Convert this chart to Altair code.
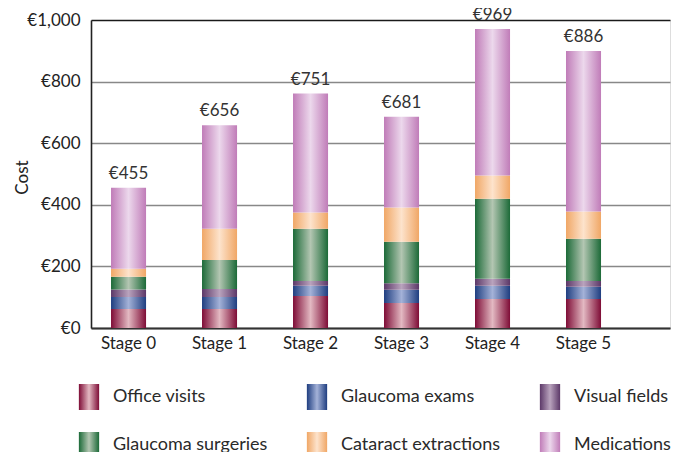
import altair as alt
import pandas as pd

stages = ["Stage 0", "Stage 1", "Stage 2", "Stage 3", "Stage 4", "Stage 5"]
categories = ["Office visits", "Glaucoma exams", "Visual fields",
              "Glaucoma surgeries", "Cataract extractions", "Medications"]
office_visits = [62, 62, 104, 81, 94, 94]
glaucoma_exams = [39, 39, 33, 43, 43, 40]
visual_fields = [24, 26, 16, 21, 23, 19]
glaucoma_surgeries = [41, 94, 169, 135, 260, 137]
cataract_extractions = [26, 101, 53, 111, 75, 88]
medications = [263, 336, 386, 295, 476, 521]
total_labels = ["€455", "€656", "€751", "€681", "€969", "€886"]
y_ticks = [0, 200, 400, 600, 800, 1000]

# gradient (edge, centre) colours per category
edge_colors = ["#7e0c36", "#1f3e80", "#5c3868", "#1c6a38", "#f0a766", "#c07cb8"]
centre_colors = ["#e3b9c2", "#a4b2d8", "#b9a3bd", "#b3c6b2", "#fde3cc", "#ecd8ec"]

series = [office_visits, glaucoma_exams, visual_fields,
          glaucoma_surgeries, cataract_extractions, medications]
rows = []
for ci, (cat, vals) in enumerate(zip(categories, series)):
    for st, v in zip(stages, vals):
        rows.append({"stage": st, "category": cat, "value": v, "idx": ci})
df = pd.DataFrame(rows)

totals = df.groupby("stage", sort=False)["value"].sum().reindex(stages)
tot_df = pd.DataFrame({"stage": stages, "total": totals.values, "label": total_labels})

def grad(edge, centre):
    return {"expr": "{gradient: 'linear', x1: 0, y1: 0, x2: 1, y2: 0, stops: ["
                    f"{{offset: 0, color: '{edge}'}}, "
                    f"{{offset: 0.5, color: '{centre}'}}, "
                    f"{{offset: 1, color: '{edge}'}}]}}"}

color_range = [grad(e, c) for e, c in zip(edge_colors, centre_colors)]

FONT = "Lato"

x_enc = alt.X("stage:N", sort=stages, title=None,
              scale=alt.Scale(paddingInner=0.615, paddingOuter=0.489, align=0.225),
              axis=alt.Axis(labelAngle=0, ticks=False, labelPadding=7,
                            labelFontSize=17, labelColor="#222", labelFont=FONT,
                            domainColor="#333", domainWidth=2.2, grid=False))

bars = alt.Chart(df).mark_bar(stroke=None).encode(
    x=x_enc,
    y=alt.Y("value:Q", stack="zero", title="Cost",
            scale=alt.Scale(domain=[0, 1000], nice=False),
            axis=alt.Axis(values=y_ticks, ticks=False, labelPadding=11,
                          labelExpr="'€' + format(datum.value, ',')",
                          labelFontSize=17, labelColor="#222", labelFont=FONT,
                          domainColor="#222", domainWidth=1.6,
                          grid=True,
                          gridColor=alt.condition("datum.value >= 1000",
                                                  alt.value("#1a1a1a"), alt.value("#888888")),
                          gridWidth=1.4,
                          titleFontSize=17, titleFontWeight="normal", titleColor="#222",
                          titleFont=FONT, titleX=-69, titleY=157, titleAngle=270,
                          titleAlign="center", titleBaseline="middle")),
    color=alt.Color("category:N", sort=categories,
                    scale=alt.Scale(domain=categories, range=color_range),
                    legend=alt.Legend(title=None, orient="none", legendX=-15, legendY=364,
                                      direction="horizontal", columns=3,
                                      symbolType="M-0.78,-1H0.78V1H-0.78Z",
                                      symbolSize=676, symbolStrokeWidth=0,
                                      labelFontSize=18, labelColor="#2a2a2a", labelFont=FONT,
                                      labelOffset=11, columnPadding=36, rowPadding=22,
                                      labelLimit=300)),
    order=alt.Order("idx:Q", sort="ascending"),
)

labels = alt.Chart(tot_df).mark_text(baseline="bottom", dy=-5, fontSize=17,
                                     color="#333", font=FONT).encode(
    x=alt.X("stage:N", sort=stages),
    y=alt.Y("total:Q"),
    text="label:N",
)

chart = alt.layer(bars, labels).properties(
    width=579, height=308,
    autosize=alt.AutoSizeParams(type="none"),
    padding={"left": 83, "top": 12, "right": 5, "bottom": 124},
).configure_view(stroke=None).configure(background="white")

chart.save("out.html", embed_options={"renderer": "svg", "actions": False})
